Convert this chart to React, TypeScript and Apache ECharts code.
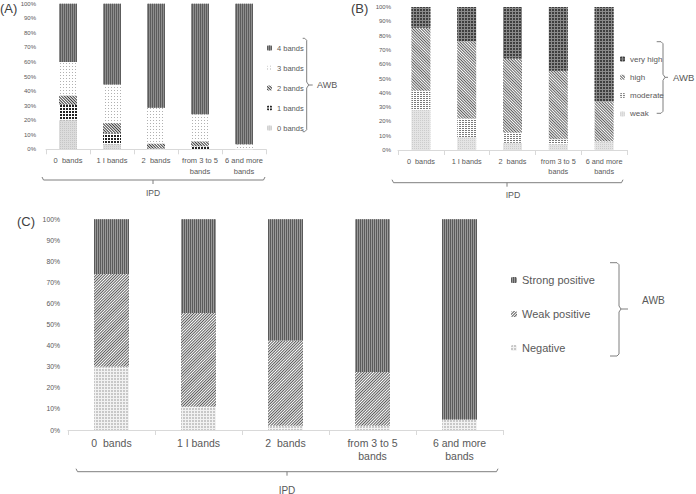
import React, { useEffect, useRef } from 'react';
import * as echarts from 'echarts';

// ---------- data ----------
const categories = ['0  bands', '1 I bands', '2  bands', 'from 3 to 5\nbands', '6 and more\nbands'];

// Panel A (AWB band counts), stacked bottom -> top
const A_0bands = [20, 3.5, 0, 0, 0];
const A_1bands = [10.5, 7.5, 0.5, 2, 0];
const A_2bands = [6.5, 7, 3.5, 3.5, 0];
const A_3bands = [23, 26.5, 24.5, 18.5, 3.5];
const A_4bands = [40, 55.5, 71.5, 76, 96.5];

// Panel B (AWB intensity)
const B_weak = [28, 9, 5, 4, 5.5];
const B_moderate = [13.5, 13, 7, 3.5, 0.5];
const B_high = [44, 54, 52, 48, 28];
const B_veryHigh = [14.5, 24, 36, 44.5, 66];

// Panel C (AWB result)
const C_negative = [30, 11, 2, 2, 5];
const C_weakPos = [44, 44.5, 40.5, 25.5, 0];
const C_strongPos = [26, 44.5, 57.5, 72.5, 95];

const legendA = ['4 bands', '3 bands', '2 bands', '1 bands', '0 bands'];
const legendB = ['very high', 'high', 'moderate', 'weak'];
const legendC = ['Strong positive', 'Weak positive', 'Negative'];

// ---------- styles ----------
const FONT = 'Liberation Sans, Arial, sans-serif';
const TXT = '#595959';
const AXIS = '#d9d9d9';

const dots = (color: string, size: number, gap: number) => ({
  symbol: 'rect', symbolSize: 1, color, dashArrayX: [size, gap], dashArrayY: [size, gap], rotation: 0,
});
const stripesV = (color: string, w: number, gap: number) => ({
  symbol: 'rect', symbolSize: 1, color, dashArrayX: [w, gap], dashArrayY: [1, 0], rotation: 0,
});
const stripesH = (color: string, w: number, gap: number, dashX: number[] = [1, 0]) => ({
  symbol: 'rect', symbolSize: 1, color, dashArrayX: dashX, dashArrayY: [w, gap], rotation: 0,
});
const hatch = (color: string, w: number, gap: number, rot: number) => ({
  symbol: 'rect', symbolSize: 1, color, dashArrayX: [1, 0], dashArrayY: [w, gap], rotation: rot,
});

function makeAxes(gridIndex: number, labelSize: number, yLabelSize: number, yMargin: number) {
  return {
    x: {
      type: 'category', gridIndex, data: categories,
      axisLine: { lineStyle: { color: AXIS } },
      axisTick: { show: true, length: 5, lineStyle: { color: AXIS } },
      axisLabel: { color: TXT, fontSize: labelSize, fontFamily: FONT, interval: 0, margin: 6, lineHeight: labelSize + 3 },
    },
    y: {
      type: 'value', gridIndex, min: 0, max: 100, interval: 10,
      axisLine: { show: false }, axisTick: { show: false }, splitLine: { show: false },
      axisLabel: { color: TXT, fontSize: yLabelSize, fontFamily: FONT, formatter: '{value}%', margin: yMargin },
    },
  };
}

function bar(name: string, data: number[], idx: number, stack: string, width: number, color: string, decal: any) {
  return {
    type: 'bar', name, data, xAxisIndex: idx, yAxisIndex: idx, stack, barWidth: width,
    itemStyle: { color, decal },
    emphasis: { disabled: true },
  };
}

const lineStyle = { stroke: '#7f7f7f', lineWidth: 1, fill: null as any };

function txt(text: string, x: number, y: number, size: number, align = 'center', color = TXT) {
  return {
    type: 'text', x, y,
    style: { text, fill: color, fontSize: size, fontFamily: FONT, align, verticalAlign: 'middle' },
  };
}

function hBrace(x0: number, x1: number, y: number, xc: number) {
  return [
    { type: 'polyline', shape: { points: [[x0, y - 3], [x0 + 1.5, y], [x1 - 1.5, y], [x1, y - 3]] }, style: lineStyle },
    { type: 'line', shape: { x1: xc, y1: y, x2: xc, y2: y + 4 }, style: lineStyle },
  ];
}

function vBrace(xl: number, xv: number, y0: number, y1: number, ym: number, tick: number) {
  return [
    { type: 'polyline', shape: { points: [[xl, y0], [xv - 2, y0], [xv, y0 + 2], [xv, ym - 3], [xv + 2, ym], [xv, ym + 3], [xv, y1 - 2], [xv - 2, y1], [xl, y1]] }, style: lineStyle },
    { type: 'line', shape: { x1: xv + 2, y1: ym, x2: xv + tick, y2: ym }, style: lineStyle },
  ];
}

export default function App() {
  const ref = useRef<HTMLDivElement>(null);
  useEffect(() => {
    if (!ref.current) return;
    const chart = echarts.init(ref.current, null, { renderer: 'svg' });
    const aA = makeAxes(0, 7.5, 6, 10);
    const aB = makeAxes(1, 7.3, 6, 7);
    const aC = makeAxes(2, 10.5, 6.8, 8);

    const option: any = {
      animation: false,
      backgroundColor: '#ffffff',
      grid: [
        { left: 46, top: 3.7, width: 220, height: 145.6 },
        { left: 398, top: 7, width: 229, height: 143 },
        { left: 68, top: 219.3, width: 435, height: 210.7 },
      ],
      xAxis: [aA.x, aB.x, aC.x],
      yAxis: [aA.y, aB.y, aC.y],
      legend: [
        {
          data: legendA, orient: 'vertical', left: 262, top: 37, itemWidth: 5, itemHeight: 5, itemGap: 8,
          textStyle: { color: TXT, fontSize: 7.5, fontFamily: FONT, lineHeight: 12 }, selectedMode: false,
        },
        {
          data: legendB, orient: 'vertical', left: 615, top: 48, itemWidth: 5, itemHeight: 5, itemGap: 6.3,
          textStyle: { color: TXT, fontSize: 8, fontFamily: FONT, lineHeight: 12 }, selectedMode: false,
        },
        {
          data: legendC, orient: 'vertical', left: 506, top: 268, itemWidth: 6, itemHeight: 6, itemGap: 20,
          textStyle: { color: TXT, fontSize: 11, fontFamily: FONT, lineHeight: 14 }, selectedMode: false,
        },
      ],
      series: [
        bar('0 bands', A_0bands, 0, 'A', 18, '#dcdcdc', dots('#c6c6c6', 1, 1)),
        bar('1 bands', A_1bands, 0, 'A', 18, '#ffffff', dots('#222222', 2, 1)),
        bar('2 bands', A_2bands, 0, 'A', 18, '#ffffff', hatch('#3a3a3a', 1, 1, Math.PI / 4)),
        bar('3 bands', A_3bands, 0, 'A', 18, '#ffffff', dots('#b0b0b0', 1, 2)),
        bar('4 bands', A_4bands, 0, 'A', 18, '#8e8e8e', stripesV('#5c5c5c', 1, 1)),

        bar('weak', B_weak, 1, 'B', 19, '#e4e4e4', dots('#cccccc', 1, 1)),
        bar('moderate', B_moderate, 1, 'B', 19, '#ffffff', stripesH('#7a7a7a', 1, 1, [2, 1])),
        bar('high', B_high, 1, 'B', 19, '#ffffff', hatch('#5e5e5e', 1, 1, Math.PI / 4)),
        bar('very high', B_veryHigh, 1, 'B', 19, '#8a8a8a', dots('#3e3e3e', 2, 1)),

        bar('Negative', C_negative, 2, 'C', 35, '#f2f2f2', dots('#c8c8c8', 2, 1)),
        bar('Weak positive', C_weakPos, 2, 'C', 35, '#ffffff', hatch('#5a5a5a', 1, 1, -Math.PI / 4)),
        bar('Strong positive', C_strongPos, 2, 'C', 35, '#999999', stripesV('#5a5a5a', 1, 1)),
      ],
      graphic: [
        txt('(A)', 0, 8, 13, 'left', '#404040'),
        txt('(B)', 351, 8, 13, 'left', '#404040'),
        txt('(C)', 17, 221, 13, 'left', '#404040'),
        txt('AWB', 317, 85, 9, 'left'),
        txt('AWB', 673, 77, 9.5, 'left'),
        txt('AWB', 642, 300, 10.2, 'left'),
        txt('IPD', 153, 193, 8.5),
        txt('IPD', 513, 195, 8.8),
        txt('IPD', 287, 490, 10),
        ...hBrace(42, 265, 180, 153),
        ...hBrace(392, 623, 182.7, 507),
        ...hBrace(76, 498, 471.7, 287),
        ...vBrace(302.7, 306.7, 38.3, 131.7, 85, 6),
        ...vBrace(656.7, 663, 41.7, 113.3, 77.3, 5),
        ...vBrace(610, 619, 262.7, 356, 309, 9),
      ],
    };
    chart.setOption(option);
    return () => chart.dispose();
  }, []);
  return <div ref={ref} style={{ position: 'fixed', left: 0, top: 0, width: 696, height: 494 }} />;
}
